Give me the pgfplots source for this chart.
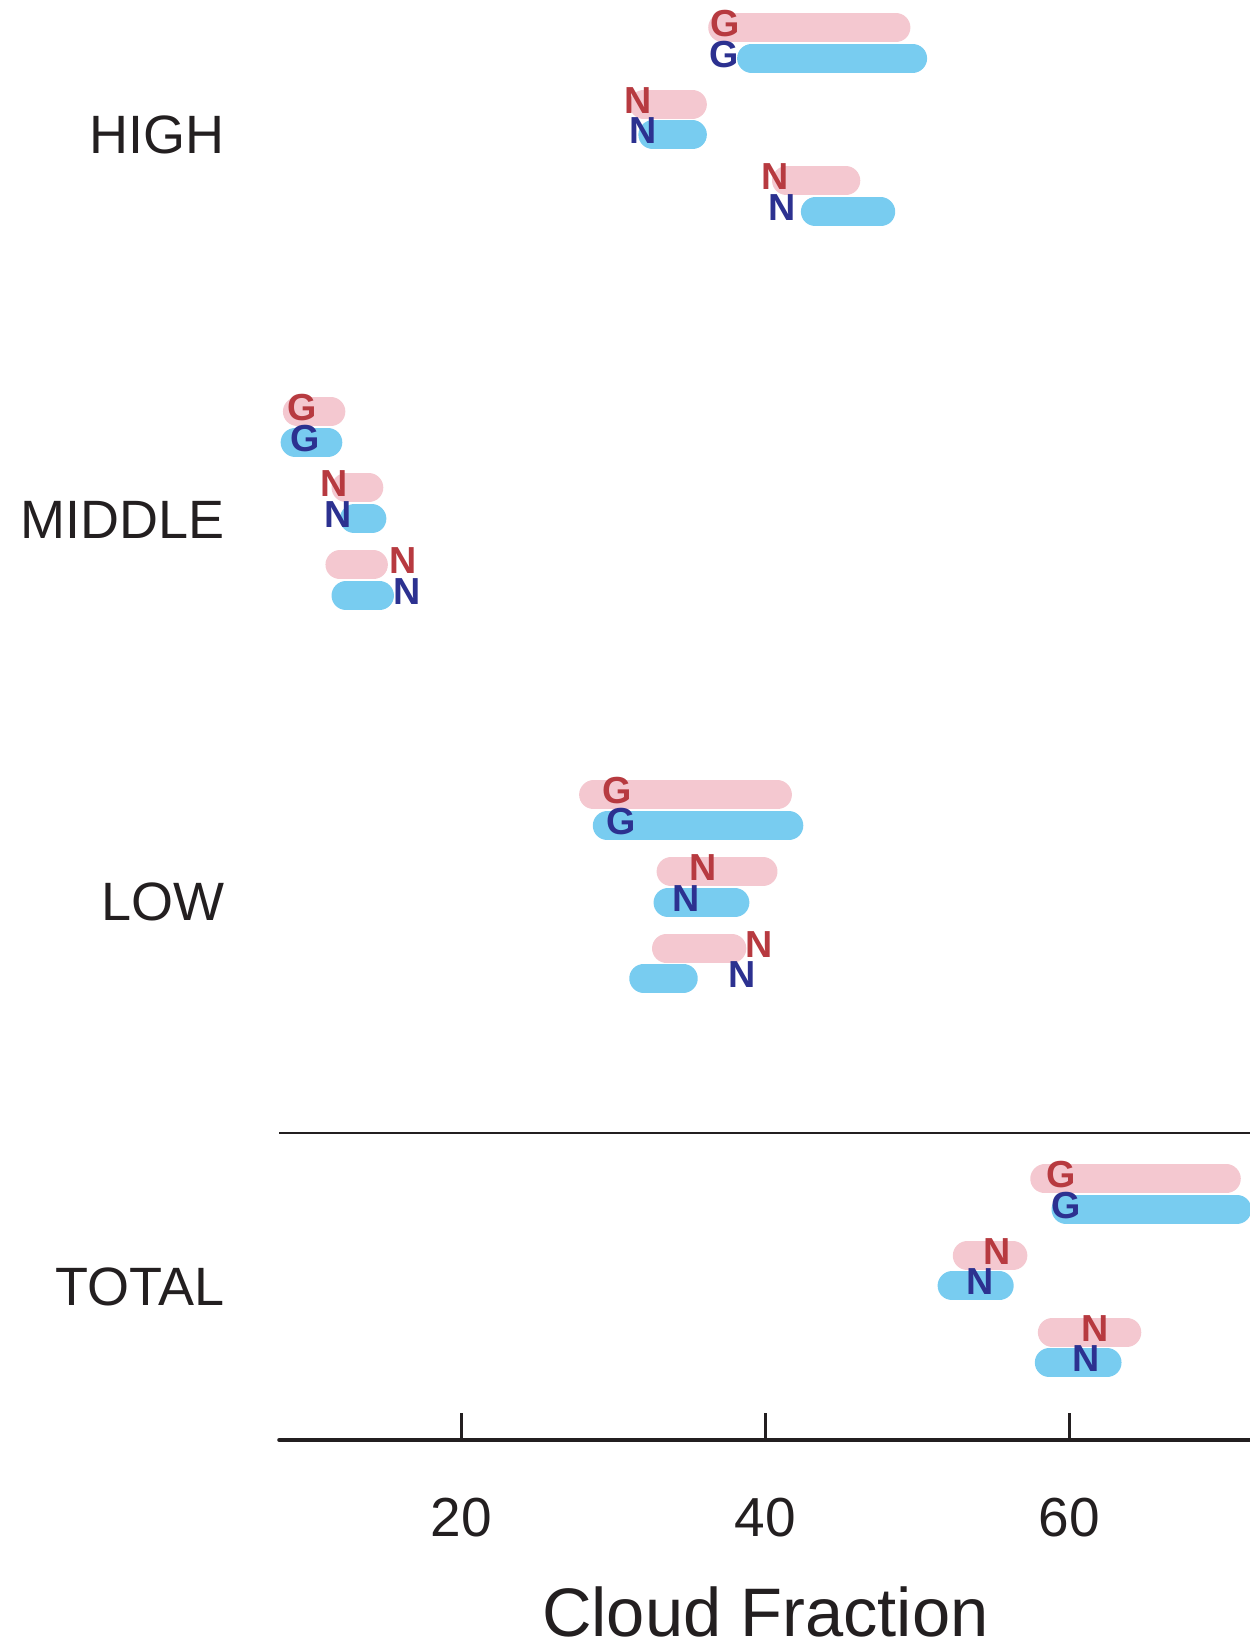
\documentclass[border=0pt]{standalone}
\usepackage{pgfplots}
\pgfplotsset{compat=1.18}
\usepackage{fontspec}
\setmainfont{Liberation Sans}
\definecolor{pinkbar}{RGB}{244,200,208}
\definecolor{bluebar}{RGB}{120,204,240}
\definecolor{redlet}{RGB}{183,58,64}
\definecolor{bluelet}{RGB}{44,49,144}
\definecolor{ink}{RGB}{35,31,32}
\newcommand{\pbar}[3]{\addplot[pinkbar, line width=8.7pt, line cap=round, no marks] coordinates {(#2,#1) (#3,#1)};}
\newcommand{\bbar}[3]{\addplot[bluebar, line width=8.7pt, line cap=round, no marks] coordinates {(#2,#1) (#3,#1)};}
\newcommand{\plet}[3]{\node[redlet, inner sep=0pt, font=\fontsize{11.3}{12}\selectfont\bfseries] at (axis cs:#2,#1+4) {#3};}
\newcommand{\blet}[3]{\node[bluelet, inner sep=0pt, font=\fontsize{11.3}{12}\selectfont\bfseries] at (axis cs:#2,#1+4) {#3};}
\newcommand{\cat}[2]{\node[anchor=east, inner sep=0pt, text=ink, font=\fontsize{16.2}{20}\selectfont] at (axis cs:4.43,#1) {#2};}
\begin{document}
\begin{tikzpicture}
\begin{axis}[
  scale only axis, width=291.65pt, height=432pt,
  xmin=8, xmax=72, ymin=-1440, ymax=0,
  axis x line*=bottom, axis y line=none,
  x axis line style={line width=1.2pt, -, line cap=round, ink},
  xtick={20,40,60}, ytick=\empty,
  tick align=inside, major tick length=8.1pt,
  xtick style={line width=0.9pt, ink},
  xticklabel style={font=\fontsize{16.5}{18}\selectfont, text=ink, anchor=base, yshift=-29pt, /pgf/number format/assume math mode=true},
  clip=false,
]
% HIGH
\pbar{-27.7}{37.2}{48.6}
\bbar{-58.3}{39.1}{49.7}
\pbar{-104.3}{32.0}{35.2}
\bbar{-135}{32.6}{35.2}
\pbar{-180.8}{41.4}{45.3}
\bbar{-212}{43.3}{47.6}
% MIDDLE
\pbar{-411.7}{9.2}{11.4}
\bbar{-442.3}{9.05}{11.2}
\pbar{-487.7}{12.4}{13.9}
\bbar{-519}{12.95}{14.1}
\pbar{-565}{12.0}{14.2}
\bbar{-595.7}{12.4}{14.6}
% LOW
\pbar{-795}{28.7}{40.8}
\bbar{-825.7}{29.6}{41.55}
\pbar{-871.7}{33.8}{39.85}
\bbar{-902.7}{33.6}{38.0}
\pbar{-948.3}{33.5}{37.8}
\bbar{-978.3}{32.0}{34.6}
% TOTAL
\pbar{-1179}{58.4}{70.35}
\bbar{-1209.3}{59.8}{71.05}
\pbar{-1255.7}{53.3}{56.3}
\bbar{-1286}{52.3}{55.4}
\pbar{-1332.3}{58.9}{63.8}
\bbar{-1362.7}{58.7}{62.5}
% letters
\plet{-27.7}{37.35}{G}
\blet{-58.3}{37.26}{G}
\plet{-104.3}{31.64}{N}
\blet{-135}{31.93}{N}
\plet{-180.8}{40.64}{N}
\blet{-212}{41.08}{N}
\plet{-411.7}{9.48}{G}
\blet{-442.3}{9.70}{G}
\plet{-487.7}{11.6}{N}
\blet{-519}{11.9}{N}
\plet{-565}{16.17}{N}
\blet{-595.7}{16.39}{N}
\plet{-795}{30.26}{G}
\blet{-825.7}{30.5}{G}
\plet{-871.7}{35.92}{N}
\blet{-902.7}{34.78}{N}
\plet{-948.3}{39.59}{N}
\blet{-978.3}{38.45}{N}
\plet{-1179}{59.45}{G}
\blet{-1209.3}{59.78}{G}
\plet{-1255.7}{55.23}{N}
\blet{-1286}{54.13}{N}
\plet{-1332.3}{61.71}{N}
\blet{-1362.7}{61.1}{N}
% categories
\cat{-134.6}{HIGH}
\cat{-519.6}{MIDDLE}
\cat{-902}{LOW}
\cat{-1287}{TOTAL}
% separator
\draw[line width=0.5pt, ink] (axis cs:8,-1133.3) -- (axis cs:72,-1133.3);
% x label
\node[anchor=base, inner sep=0pt, text=ink, font=\fontsize{20.6}{24}\selectfont] at (axis cs:40,-1440) [yshift=-59pt] {Cloud Fraction};
\end{axis}
\pgfresetboundingbox
\path[use as bounding box] (-83.76pt,-62.4pt) rectangle (291.2pt,432pt);
\end{tikzpicture}
\end{document}
